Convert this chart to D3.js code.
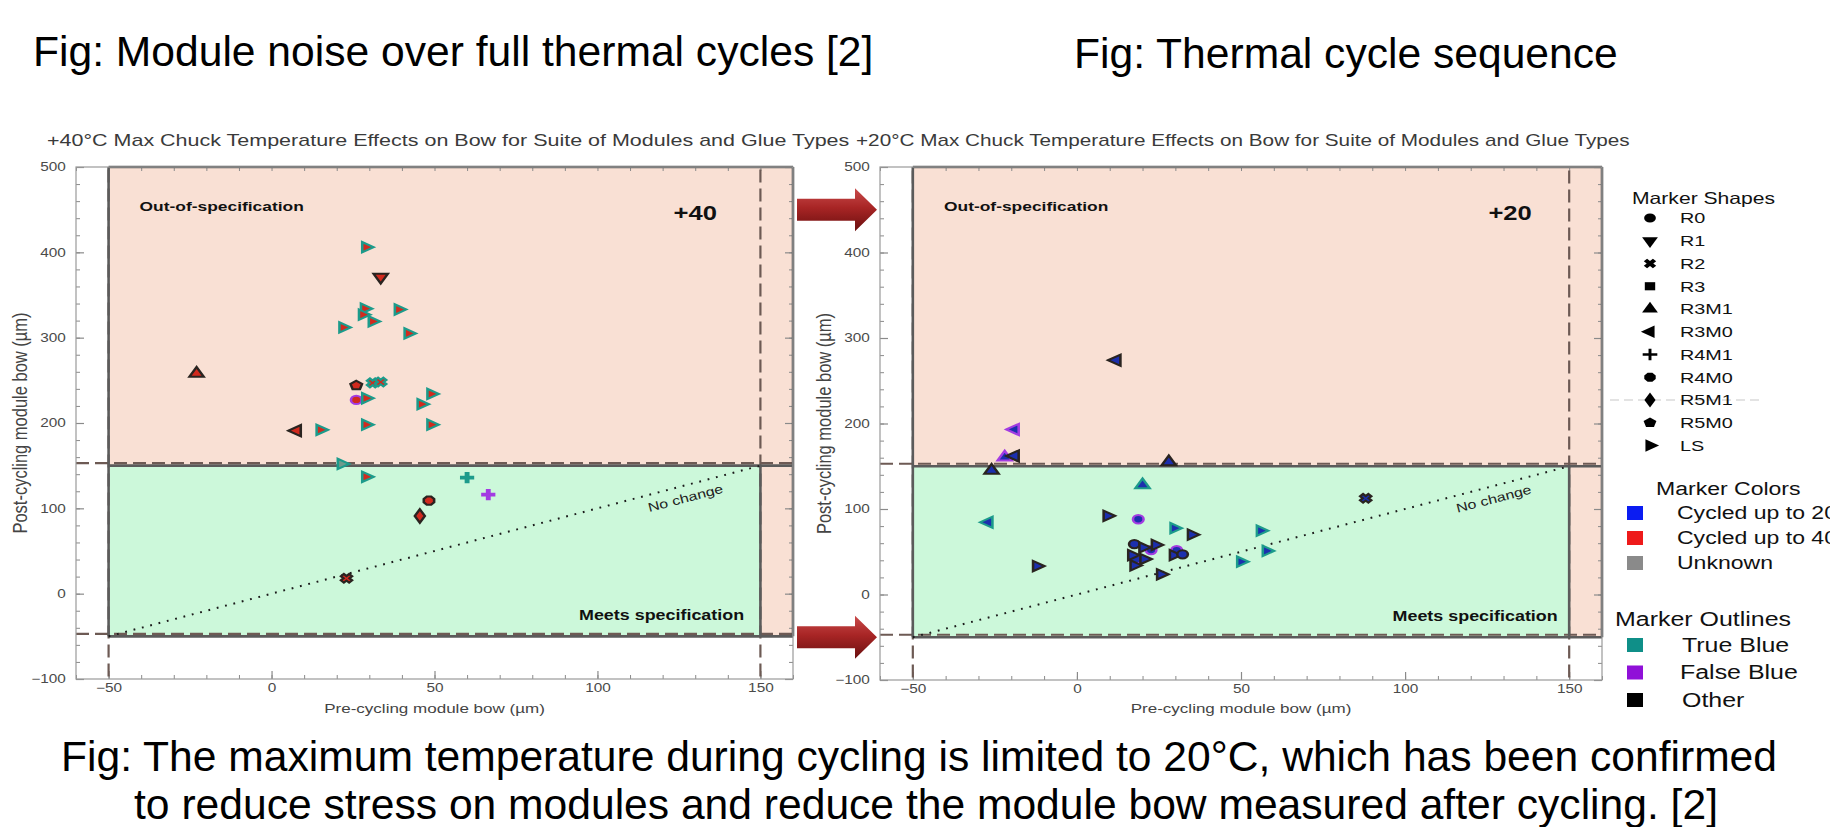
<!DOCTYPE html>
<html>
<head>
<meta charset="utf-8">
<script src="https://cdn.jsdelivr.net/npm/d3@7"></script>
<style>
  body { margin: 0; background: #fff; }
  svg { display: block; font-family: "Liberation Sans", Arial, sans-serif; }
</style>
</head>
<body>
<svg id="chart" width="1830" height="827"></svg>
<script>
// axes
const xDomain = [-60, 160];
const yDomain = [-100, 500];
const xTicks = [-50, 0, 50, 100, 150];
const yTicks = [-100, 0, 100, 200, 300, 400, 500];
const specX = [-50, 150];   // pre-cycling bow spec
const specY = [-50, 150];   // post-cycling bow spec
const noChange = [-50, 150];
const arrowLevels = [450, -50];

// +40 C panel: pre bow, post bow, shape, fill group, outline group
const hotX = [-23, 29, 33.5, 28.6, 28, 39, 31, 22, 42, 26, 31, 33.5, 26, 29, 49, 46, 29, 49, 7.7, 15, 21.5, 29, 60, 66.5, 48.3, 45.5, 23];
const hotY = [258, 406, 371, 334, 327, 333, 319, 312, 305, 244, 247, 248, 227, 229, 234, 222, 198, 198, 191, 192, 152, 137, 136, 116, 109, 91, 18];
const hotShape = ["R3M1", "LS", "R1", "LS", "LS", "LS", "LS", "LS", "LS", "R5M0", "R2", "R2", "R0", "LS", "LS", "LS", "LS", "LS", "R3M0", "LS", "LS", "LS", "R4M1", "R4M1", "R4M0", "R5M1", "R2"];
const hotFill = ["40", "40", "40", "40", "40", "40", "40", "40", "40", "40", "40", "40", "40", "40", "40", "40", "40", "40", "40", "40", "unk", "40", "unk", "unk", "40", "40", "40"];
const hotEdge = ["other", "true", "other", "true", "true", "true", "true", "true", "true", "other", "true", "true", "false", "true", "true", "true", "true", "true", "other", "true", "true", "true", "true", "false", "other", "other", "other"];

// +20 C panel
const coolX = [12, -19, -22, -19, 28, -26, 20, -27, 88, 9.3, 18.7, 29.7, 35, 56, 57.8, 50, 22.6, 30.4, 18, 17.5, 20.2, 24, 16.8, 29.5, 32.2, 20.5, 17.5, -12.2, 25.6];
const coolY = [274, 193, 160.5, 162, 155, 145, 128, 84.5, 112.5, 92, 88, 77.5, 70, 74.6, 51, 38.4, 52, 52, 41, 59, 55, 58, 46, 46, 47, 41.5, 34, 33.3, 23.6];
const coolShape = ["R3M0", "R3M0", "R3M1", "R3M0", "R3M1", "R3M1", "R3M1", "R3M0", "R2", "LS", "R0", "LS", "LS", "LS", "LS", "LS", "R0", "R0", "R0", "R0", "LS", "LS", "LS", "LS", "R0", "LS", "LS", "LS", "LS"];
const coolFill = ["20", "20", "20", "20", "20", "20", "20", "20", "20", "20", "20", "20", "20", "20", "20", "20", "20", "20", "20", "20", "20", "20", "20", "20", "20", "20", "20", "20", "20"];
const coolEdge = ["other", "false", "false", "other", "other", "other", "true", "true", "other", "other", "false", "true", "other", "true", "true", "true", "false", "false", "false", "other", "other", "other", "other", "other", "other", "other", "other", "other", "other"];

// legend
const shapeNames = ["R0", "R1", "R2", "R3", "R3M1", "R3M0", "R4M1", "R4M0", "R5M1", "R5M0", "LS"];
const colorNames = ["Cycled up to 20", "Cycled up to 40", "Unknown"];
const outlineNames = ["True Blue", "False Blue", "Other"];

const fillCol = { "20": "#1c2fae", "40": "#d12a1e", "unk": "#6f9a8c" };
const edgeCol = { "true": "#1c9b8b", "false": "#a33ce2", "other": "#2a2420" };
const legendFill = ["#0b1cf2", "#ee1a1a", "#8a8a8a"];
const legendEdge = ["#0f8f88", "#9010d8", "#000000"];

const SX = 1.28;   // the chart screenshots are stretched sideways
const pink = "#f9e0d4", green = "#ccf8da";

const svg = d3.select("#chart");

// marker shapes
function poly(n, start) {
  return {
    draw(ctx, size) {
      const r = Math.sqrt(size / (n / 2 * Math.sin(2 * Math.PI / n)));
      for (let i = 0; i < n; i++) {
        const a = start + i * 2 * Math.PI / n;
        if (i) ctx.lineTo(r * Math.cos(a), r * Math.sin(a));
        else ctx.moveTo(r * Math.cos(a), r * Math.sin(a));
      }
      ctx.closePath();
    }
  };
}
function cross(rot, thick) {
  return {
    draw(ctx, size) {
      const r = Math.sqrt(size) * 0.62, w = r * thick;
      const pts = [[-w, -r], [w, -r], [w, -w], [r, -w], [r, w], [w, w], [w, r], [-w, r], [-w, w], [-r, w], [-r, -w], [-w, -w]];
      const c = Math.cos(rot), s = Math.sin(rot);
      pts.forEach(([px, py], i) => {
        const qx = px * c - py * s, qy = px * s + py * c;
        if (i) ctx.lineTo(qx, qy); else ctx.moveTo(qx, qy);
      });
      ctx.closePath();
    }
  };
}
const symbolOf = {
  R0: d3.symbolCircle,
  R1: poly(3, Math.PI / 2),
  R2: cross(Math.PI / 4, 0.36),
  R3: d3.symbolSquare,
  R3M1: poly(3, -Math.PI / 2),
  R3M0: poly(3, Math.PI),
  R4M1: cross(0, 0.2),
  R4M0: poly(8, Math.PI / 8),
  R5M1: d3.symbolDiamond,
  R5M0: poly(5, -Math.PI / 2),
  LS: poly(3, 0)
};

function stext(g, x, y, str) {
  return g.append("text")
    .attr("transform", `translate(${x},${y}) scale(${SX},1)`)
    .text(str);
}

function cleanAxis(sel, size) {
  sel.attr("font-family", null);
  sel.select(".domain").remove();
  sel.selectAll(".tick line").attr("stroke", "#8a8a8a").attr("stroke-width", size);
  sel.selectAll(".tick text")
    .attr("font-size", 12)
    .attr("fill", "#4a4a4a")
    .attr("transform", `scale(${SX},1)`);
}

function panel(cfg) {
  const x = d3.scaleLinear().domain(xDomain).range([cfg.left, cfg.right]);
  const y = d3.scaleLinear().domain(yDomain).range([cfg.bottom, cfg.top]);
  const g = svg.append("g");

  stext(g, cfg.titleX, 146, cfg.title).attr("font-size", cfg.titleSize).attr("fill", "#3a3a3a");

  // spec regions
  g.append("rect")
    .attr("x", x(specX[0])).attr("y", y(yDomain[1]))
    .attr("width", x(xDomain[1]) - x(specX[0]))
    .attr("height", y(specY[0]) - y(yDomain[1]))
    .attr("fill", pink);
  g.append("rect")
    .attr("x", x(specX[0])).attr("y", y(specY[1]))
    .attr("width", x(specX[1]) - x(specX[0]))
    .attr("height", y(specY[0]) - y(specY[1]))
    .attr("fill", green);

  // ticks, inward on all four sides
  const xMinor = x.ticks(22), yMinor = y.ticks(30);
  g.append("g").attr("transform", `translate(0,${cfg.bottom})`)
    .call(d3.axisBottom(x).tickValues(xMinor).tickSize(-4).tickFormat(""))
    .call(cleanAxis, 1);
  g.append("g").attr("transform", `translate(0,${cfg.bottom})`)
    .call(d3.axisBottom(x).tickValues(xTicks).tickSize(-8).tickPadding(4))
    .call(cleanAxis, 1.2);
  g.append("g").attr("transform", `translate(0,${cfg.top})`)
    .call(d3.axisTop(x).tickValues(xMinor).tickSize(-4).tickFormat(""))
    .call(cleanAxis, 1);
  g.append("g").attr("transform", `translate(${cfg.left},0)`)
    .call(d3.axisLeft(y).tickValues(yMinor).tickSize(-4).tickFormat(""))
    .call(cleanAxis, 1);
  g.append("g").attr("transform", `translate(${cfg.left},0)`)
    .call(d3.axisLeft(y).tickValues(yTicks).tickSize(-8).tickPadding(8))
    .call(cleanAxis, 1.2);
  g.append("g").attr("transform", `translate(${cfg.right},0)`)
    .call(d3.axisRight(y).tickValues(yMinor).tickSize(-4).tickFormat(""))
    .call(cleanAxis, 1);
  g.append("g").attr("transform", `translate(${cfg.right},0)`)
    .call(d3.axisRight(y).tickValues(yTicks).tickSize(-8).tickFormat(""))
    .call(cleanAxis, 1.2);

  const line = d3.line().x(d => x(d[0])).y(d => y(d[1]));

  // dashed spec limits across the whole plot
  const dashed = [
    [[specX[0], yDomain[0]], [specX[0], yDomain[1]]],
    [[specX[1], yDomain[0]], [specX[1], yDomain[1]]],
    [[xDomain[0], specY[1]], [xDomain[1], specY[1]]],
    [[xDomain[0], specY[0]], [xDomain[1], specY[0]]]
  ];
  g.append("g").attr("transform", "translate(0,-2.5)")
    .selectAll("path").data(dashed).join("path")
    .attr("d", line)
    .attr("fill", "none").attr("stroke", "#6d5a54")
    .attr("stroke-width", 2.2).attr("stroke-dasharray", "13,6");

  // solid region borders
  const solid = [
    [[specX[0], yDomain[1]], [xDomain[1], yDomain[1]]],
    [[specX[0], specY[0]], [specX[0], yDomain[1]]],
    [[xDomain[1], specY[0]], [xDomain[1], yDomain[1]]],
    [[specX[0], specY[1]], [xDomain[1], specY[1]]],
    [[specX[0], specY[0]], [xDomain[1], specY[0]]],
    [[specX[1], specY[0]], [specX[1], specY[1]]]
  ];
  g.append("g").selectAll("path").data(solid).join("path")
    .attr("d", line)
    .attr("fill", "none").attr("stroke", "#5b5b5b").attr("stroke-width", 2.6);

  // no change line
  g.append("path")
    .attr("d", line(noChange.map(v => [v, v])))
    .attr("fill", "none").attr("stroke", "#1a1a1a")
    .attr("stroke-width", 2).attr("stroke-dasharray", "1.8,6.8");
  const ang = Math.atan2(y(noChange[1]) - y(noChange[0]), x(noChange[1]) - x(noChange[0])) * 180 / Math.PI;
  g.append("text")
    .attr("transform", `translate(${x(127)},${y(112)}) rotate(${ang}) scale(${SX},1)`)
    .attr("text-anchor", "middle").attr("dy", "0.35em")
    .attr("font-size", 12.5).attr("fill", "#222")
    .text("No change");

  stext(g, x(-40.5), y(448), "Out-of-specification")
    .attr("font-size", 13.6).attr("font-weight", "bold").attr("fill", "#111");
  stext(g, x(cfg.tagX), y(438), cfg.tag)
    .attr("font-size", 20).attr("font-weight", "bold").attr("text-anchor", "middle").attr("fill", "#111");
  stext(g, x(cfg.meetX), y(-31), "Meets specification")
    .attr("font-size", 14).attr("font-weight", "bold").attr("text-anchor", "end").attr("fill", "#111");

  // markers
  g.append("g").selectAll("path").data(d3.range(cfg.xs.length)).join("path")
    .attr("transform", i => `translate(${x(cfg.xs[i])},${y(cfg.ys[i])}) scale(${SX},1)`)
    .attr("d", i => d3.symbol(symbolOf[cfg.shapes[i]], cfg.shapes[i] === "LS" ? 46 : 54)())
    .attr("fill", i => fillCol[cfg.fills[i]])
    .attr("stroke", i => edgeCol[cfg.edges[i]])
    .attr("stroke-width", 2);

  // frame
  g.append("rect")
    .attr("x", cfg.left).attr("y", cfg.top)
    .attr("width", cfg.right - cfg.left).attr("height", cfg.bottom - cfg.top)
    .attr("fill", "none").attr("stroke", "#9a9a9a").attr("stroke-width", 1.2);

  // axis titles
  stext(g, (cfg.left + cfg.right) / 2, 713, "Pre-cycling module bow (µm)")
    .attr("font-size", 13.3).attr("text-anchor", "middle").attr("fill", "#444");
  g.append("text")
    .attr("transform", `translate(${cfg.left - 49},${(cfg.top + cfg.bottom) / 2}) scale(${SX},1) rotate(-90)`)
    .attr("font-size", 16.5).attr("text-anchor", "middle").attr("fill", "#444")
    .text("Post-cycling module bow (µm)");

  return { x, y };
}

panel({
  left: 76, right: 793, top: 167, bottom: 679, titleX: 47, titleSize: 16.8, tagX: 130, meetX: 145,
  title: "+40°C Max Chuck Temperature Effects on Bow for Suite of Modules and Glue Types",
  tag: "+40", xs: hotX, ys: hotY, shapes: hotShape, fills: hotFill, edges: hotEdge
});
const right = panel({
  left: 880, right: 1602, top: 167, bottom: 680, titleX: 856, titleSize: 16.2, tagX: 132, meetX: 146.5,
  title: "+20°C Max Chuck Temperature Effects on Bow for Suite of Modules and Glue Types",
  tag: "+20", xs: coolX, ys: coolY, shapes: coolShape, fills: coolFill, edges: coolEdge
});

// red arrows pointing at the +20 panel
const grad = svg.append("defs").append("linearGradient")
  .attr("id", "arrowGrad").attr("x1", 0).attr("y1", 0).attr("x2", 0).attr("y2", 1);
grad.append("stop").attr("offset", "0%").attr("stop-color", "#c94b4b");
grad.append("stop").attr("offset", "45%").attr("stop-color", "#a82525");
grad.append("stop").attr("offset", "100%").attr("stop-color", "#6a0f0f");

svg.append("g").selectAll("path").data(arrowLevels).join("path")
  .attr("transform", d => `translate(797,${right.y(d)})`)
  .attr("d", "M0,-11 L58,-11 L58,-21.5 L80,0 L58,21.5 L58,11 L0,11 Z")
  .attr("fill", "url(#arrowGrad)");

// legend
const leg = svg.append("g");
stext(leg, 1632, 198, "Marker Shapes").attr("font-size", 16.5).attr("dy", "0.35em").attr("fill", "#111");
leg.append("line")
  .attr("x1", 1610).attr("x2", 1760).attr("y1", 400).attr("y2", 400)
  .attr("stroke", "#dadada").attr("stroke-width", 1.5).attr("stroke-dasharray", "9,5");
shapeNames.forEach((s, i) => {
  const yy = 218 + i * 22.75;
  leg.append("path")
    .attr("transform", `translate(1650,${yy}) scale(${SX},1)`)
    .attr("d", d3.symbol(symbolOf[s], s === "R4M1" ? 85 : 66)())
    .attr("fill", "#000");
  stext(leg, 1680, yy, s).attr("font-size", 15.5).attr("dy", "0.35em").attr("fill", "#111");
});

stext(leg, 1656, 489, "Marker Colors").attr("font-size", 18).attr("dy", "0.35em").attr("fill", "#111");
colorNames.forEach((s, i) => {
  const yy = 513 + i * 25;
  leg.append("rect").attr("x", 1627).attr("y", yy - 7).attr("width", 16).attr("height", 14).attr("fill", legendFill[i]);
  stext(leg, 1677, yy, s).attr("font-size", 18).attr("dy", "0.35em").attr("fill", "#111");
});

stext(leg, 1615, 619, "Marker Outlines").attr("font-size", 19.5).attr("dy", "0.35em").attr("fill", "#111");
outlineNames.forEach((s, i) => {
  const yy = 645 + i * 27.5;
  leg.append("rect").attr("x", 1627).attr("y", yy - 7).attr("width", 16).attr("height", 14).attr("fill", legendEdge[i]);
  stext(leg, i === 1 ? 1680 : 1682, yy, s).attr("font-size", 19.5).attr("dy", "0.35em").attr("fill", "#111");
});

// slide captions
const cap = svg.append("g").attr("font-size", 42.6).attr("fill", "#000");
cap.append("text").attr("x", 33).attr("y", 66).text("Fig: Module noise over full thermal cycles [2]");
cap.append("text").attr("x", 1074).attr("y", 68).text("Fig: Thermal cycle sequence");
cap.append("text").attr("x", 919).attr("y", 771).attr("text-anchor", "middle")
  .text("Fig: The maximum temperature during cycling is limited to 20°C, which has been confirmed");
cap.append("text").attr("x", 926).attr("y", 819).attr("text-anchor", "middle")
  .text("to reduce stress on modules and reduce the module bow measured after cycling. [2]");
</script>
</body>
</html>
